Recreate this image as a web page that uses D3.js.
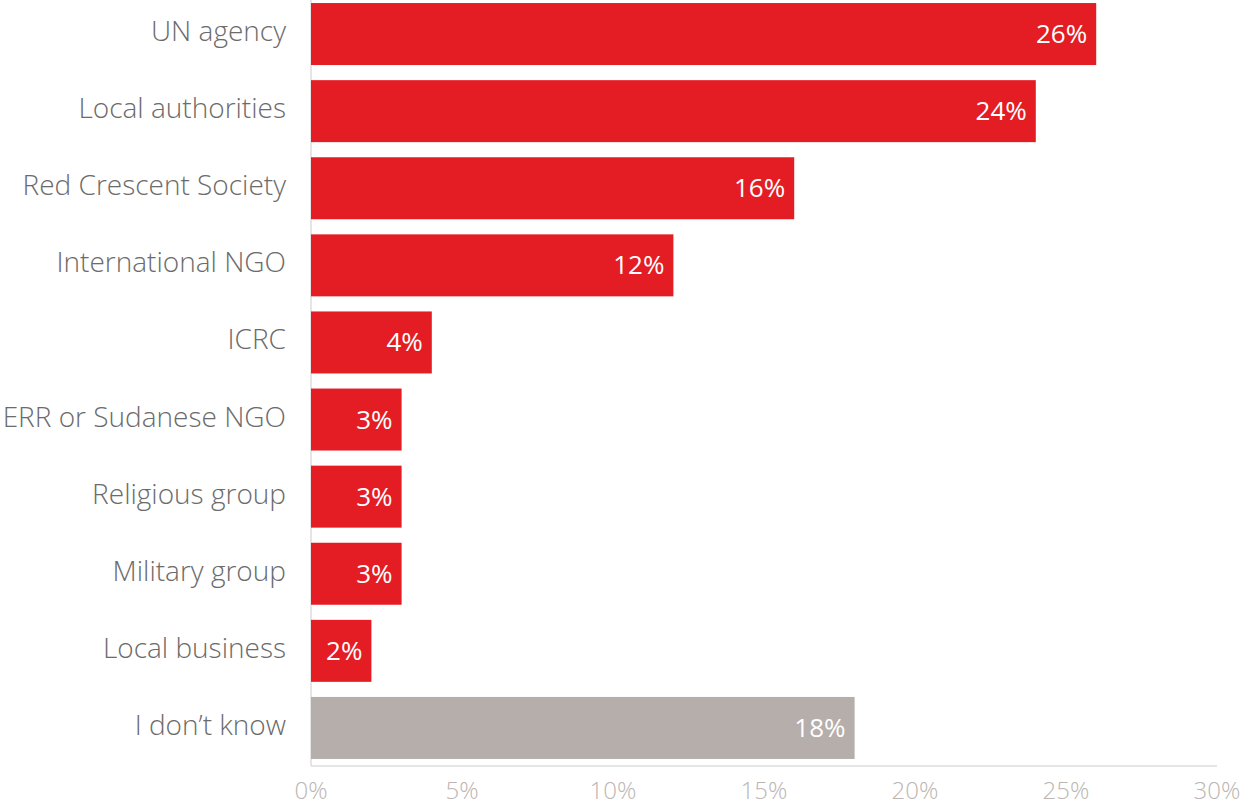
<html>
<head>
<script src="https://cdn.jsdelivr.net/npm/d3@7"></script>
<style>
  body { margin: 0; background: #fff; }
  text { font-family: "Open Sans", Lato, sans-serif; font-weight: 300; }
</style>
</head>
<body>
<svg id="svg" width="1242" height="805"></svg>
<script>
var categories = ["UN agency", "Local authorities", "Red Crescent Society", "International NGO", "ICRC",
                  "ERR or Sudanese NGO", "Religious group", "Military group", "Local business", "I don\u2019t know"];
var values = [26, 24, 16, 12, 4, 3, 3, 3, 2, 18];
var ticks = [0, 5, 10, 15, 20, 25, 30];

var svg = d3.select("svg");
var x = d3.scaleLinear().domain([0, 30]).range([311, 1217]);
var y = d3.scaleBand().domain(categories).range([-4.5, 766.5]).paddingInner(0.196).paddingOuter(0.098);

var data = categories.map(function(c, i){ return {cat: c, val: values[i]}; });

// axis lines
svg.append("line").attr("x1", x(0)).attr("x2", x(0)).attr("y1", 0).attr("y2", 766)
   .attr("stroke", "#dcdcdc").attr("stroke-width", 1.5);
svg.append("line").attr("x1", x(0)).attr("x2", x(30)).attr("y1", 766).attr("y2", 766)
   .attr("stroke", "#dcdcdc").attr("stroke-width", 1.5);

svg.selectAll("rect.bar").data(data).enter().append("rect")
   .attr("class", "bar")
   .attr("x", x(0))
   .attr("y", function(d){ return y(d.cat); })
   .attr("width", function(d){ return x(d.val) - x(0); })
   .attr("height", y.bandwidth())
   .attr("fill", function(d){ return d.cat === "I don\u2019t know" ? "#b5aeab" : "#e41c23"; });

svg.selectAll("text.val").data(data).enter().append("text")
   .attr("class", "val")
   .attr("x", function(d){ return x(d.val) - 9; })
   .attr("y", function(d){ return y(d.cat) + y.bandwidth()/2 + 9; })
   .attr("text-anchor", "end")
   .attr("font-size", 26)
   .style("font-weight", 400)
   .attr("fill", "#fff")
   .text(function(d){ return d.val + "%"; });

svg.selectAll("text.cat").data(data).enter().append("text")
   .attr("class", "cat")
   .attr("x", 286)
   .attr("y", function(d){ return y(d.cat) + y.bandwidth()/2 + 7; })
   .attr("text-anchor", "end")
   .attr("font-size", 28)
   .attr("fill", "#6b6b6b")
   .text(function(d){ return d.cat; });

svg.selectAll("text.tick").data(ticks).enter().append("text")
   .attr("class", "tick")
   .attr("x", function(d){ return x(d); })
   .attr("y", 799)
   .attr("text-anchor", "middle")
   .attr("font-size", 24)
   .attr("fill", "#bcb5b2")
   .text(function(d){ return d + "%"; });
</script>
</body>
</html>
